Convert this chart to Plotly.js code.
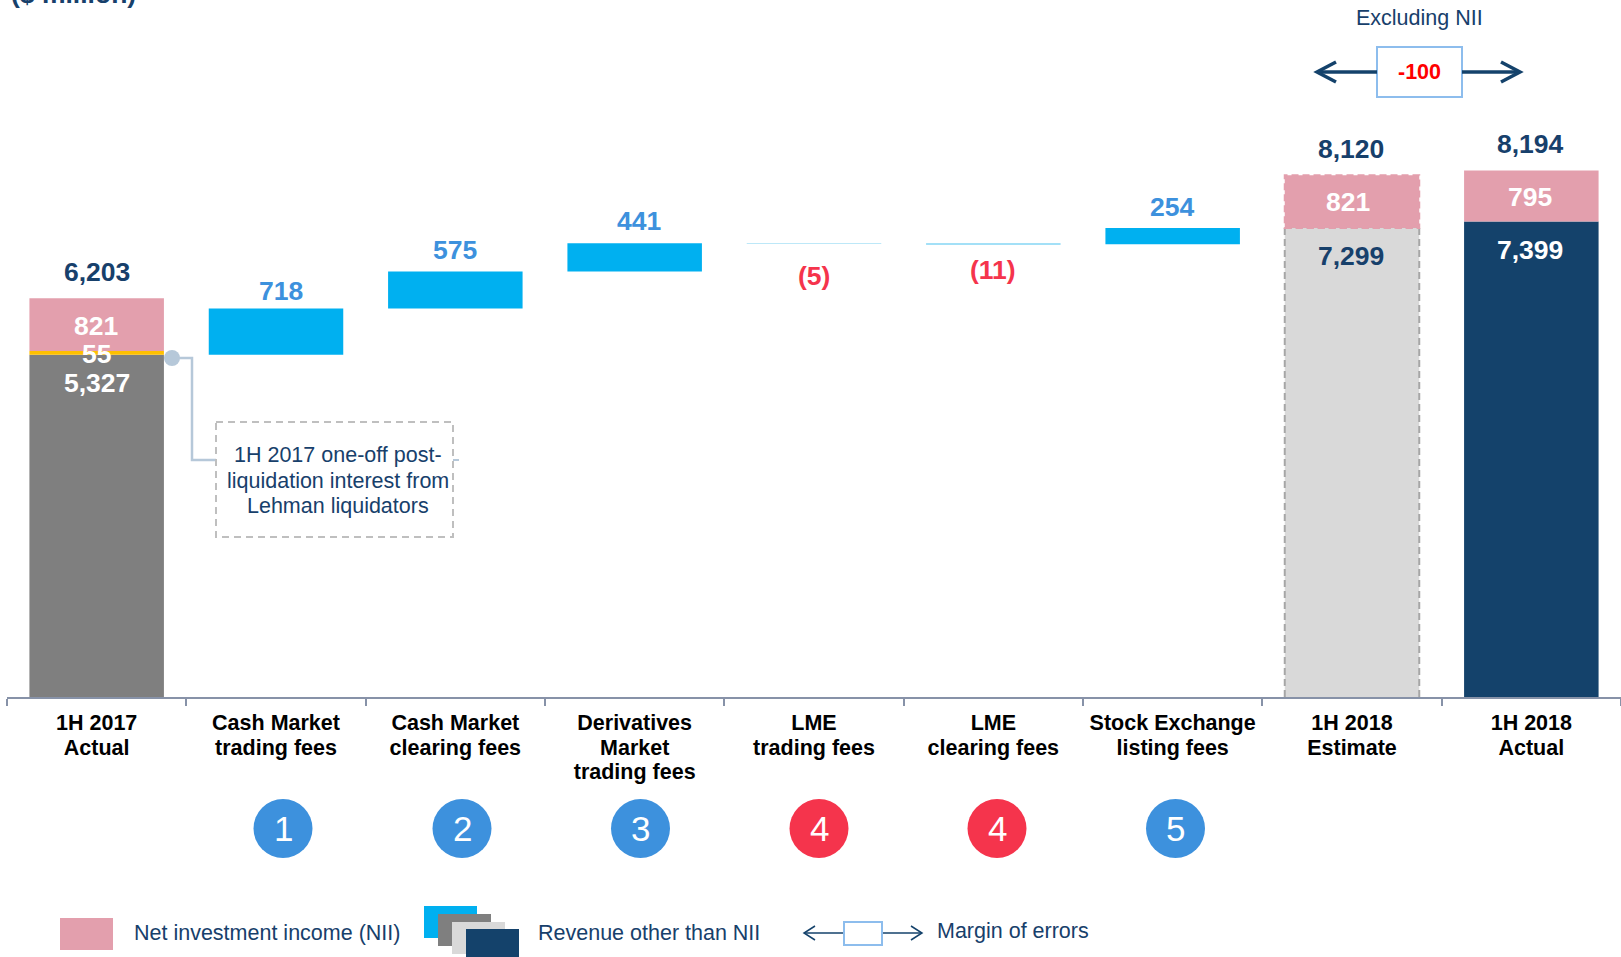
<!DOCTYPE html>
<html>
<head>
<meta charset="utf-8">
<script src="https://cdn.plot.ly/plotly-3.0.1.min.js"></script>
<style>html,body{margin:0;padding:0;background:#fff;overflow:hidden}</style>
</head>
<body>
<div id="chart" style="width:1621px;height:957px"></div>
<script>
// Revenue bridge, $ million
const categories = [
  "1H 2017<br>Actual", "Cash Market<br>trading fees", "Cash Market<br>clearing fees",
  "Derivatives<br>Market<br>trading fees", "LME<br>trading fees", "LME<br>clearing fees",
  "Stock Exchange<br>listing fees", "1H 2018<br>Estimate", "1H 2018<br>Actual"
];
const revenueExNii = [5327, 718, 575, 441, -5, -11, 254, 7299, 7399];
const revenueBase  = [0, 5327, 6045, 6620, 7061, 7056, 7045, 0, 0];
const oneOffInterest = [55, null, null, null, null, null, null, null, null];
const oneOffBase     = [5327, null, null, null, null, null, null, null, null];
const nii     = [821, null, null, null, null, null, null, 821, 795];
const niiBase = [5382, null, null, null, null, null, null, 7299, 7399];
const totals  = [6203, null, null, null, null, null, null, 8120, 8194];
const driverNumbers = ["", "1", "2", "3", "4", "4", "5", "", ""];
const marginOfError = -100;

const NAVY = "#14426B", TEXT = "#17406B", PINK = "#E39FAD", GREY = "#7F7F7F", CYAN = "#00B0F0",
      LIGHT = "#D9D9D9", AMBER = "#FFC000", BLUE = "#3D91DD", RED = "#F5344C", SKY = "#8DBDED", LINK = "#B6C8D9";
const FONT = "Liberation Sans";
// The two LME bars are hairlines, so they are tinted paler than the wide bars
const barColors = [GREY, CYAN, CYAN, CYAN, "#BDE8F8", "#A3E0F7", CYAN, LIGHT, NAVY];

const LEFT = 7, WIDTH = 1614, BASELINE = 697;
const px = x => (x - LEFT) / WIDTH;
const py = y => (BASELINE - y) / BASELINE;

const fmt = v => v.toLocaleString("en-US");
const bridgeFmt = v => v < 0 ? "(" + fmt(-v) + ")" : fmt(v);

const barTrace = (name, y, base, color, line) => ({
  type: "bar", name, x: categories, y, base, width: 0.75,
  marker: {color, line: line || {width: 0}},
  hoverinfo: "skip", showlegend: false
});
const traces = [
  barTrace("Revenue other than NII", revenueExNii, revenueBase, barColors),
  barTrace("One-off interest", oneOffInterest, oneOffBase, AMBER),
  barTrace("Net investment income", nii, niiBase, PINK)
];

// Labels tied to a bar: category index, data level, pixel nudges
const anns = [];
const dataLabel = (i, text, level, dx, dy, color) => anns.push({
  xref: "x", yref: "y", x: i, y: level, xshift: dx, yshift: dy, text: "<b>" + text + "</b>",
  showarrow: false, xanchor: "center", yanchor: "middle",
  font: {family: FONT, size: 26.5, color}
});
dataLabel(0, fmt(totals[0]), 6203, 0, 26.5, TEXT);
dataLabel(0, fmt(nii[0]), 5792, -1, -1.5, "#fff");
dataLabel(0, fmt(oneOffInterest[0]), 5354, 0, -1.5, "#fff");
dataLabel(0, fmt(revenueExNii[0]), 5327, 0, -28.5, "#fff");
dataLabel(1, bridgeFmt(revenueExNii[1]), 6045, 5, 17.5, BLUE);
dataLabel(2, bridgeFmt(revenueExNii[2]), 6620, 0, 21.5, BLUE);
dataLabel(3, bridgeFmt(revenueExNii[3]), 7061, 4, 22, BLUE);
dataLabel(4, bridgeFmt(revenueExNii[4]), 7056, 0, -32.5, RED);
dataLabel(5, bridgeFmt(revenueExNii[5]), 7045, 0, -26, RED);
dataLabel(6, bridgeFmt(revenueExNii[6]), 7299, -1, 20.5, BLUE);
dataLabel(7, fmt(totals[7]), 8120, -1, 26.5, TEXT);
dataLabel(7, fmt(nii[7]), 7709, -4, -0.5, "#fff");
dataLabel(7, fmt(revenueExNii[7]), 7299, -1, -28.5, TEXT);
dataLabel(8, fmt(totals[8]), 8194, -1, 26, TEXT);
dataLabel(8, fmt(nii[8]), 7796, -1, -1.5, "#fff");
dataLabel(8, fmt(revenueExNii[8]), 7399, -1, -28.5, "#fff");

// Free-standing page text, placed in pixels
const pageText = (x, y, text, size, color, anchor) => anns.push({
  xref: "paper", yref: "paper", x: px(x), y: py(y), text, showarrow: false,
  xanchor: anchor || "center", yanchor: "middle",
  font: {family: FONT, size, color}
});
pageText(9, -6, "<b>($ million)</b>", 26.5, TEXT, "left");
pageText(1419, 17.5, "Excluding NII", 21.5, TEXT);
pageText(1419, 72.5, "<b>" + marginOfError + "</b>", 21.5, "#FF0000");
["1H 2017 one-off post-", "liquidation interest from", "Lehman liquidators"].forEach((line, k) =>
  pageText(337.5, 455 + k * 25.5, line, 21.5, TEXT));
pageText(132, 933, "Net investment income (NII)", 21.5, TEXT, "left");
pageText(536, 933, "Revenue other than NII", 21.5, TEXT, "left");
pageText(935, 931, "Margin of errors", 21.5, TEXT, "left");

// Decoration drawn in pixels
const shapes = [];
const box = (x0, y0, x1, y1, fill, line) => shapes.push({
  type: "rect", xref: "paper", yref: "paper", x0: px(x0), x1: px(x1), y0: py(y0), y1: py(y1),
  fillcolor: fill || "rgba(0,0,0,0)", line: line || {width: 0}
});
const disc = (cx, cy, r, fill) => shapes.push({
  type: "circle", xref: "paper", yref: "paper", x0: px(cx - r), x1: px(cx + r), y0: py(cy - r), y1: py(cy + r),
  fillcolor: fill, line: {width: 0}
});
const polyline = (pts, color, width) => shapes.push({
  type: "path", xref: "paper", yref: "paper",
  path: pts.map((p, k) => (k ? "L" : "M") + px(p[0]) + "," + py(p[1])).join(" "),
  line: {color, width}
});

// Estimate bar outlines, dashed: open-bottomed grey sides, scalloped pink cap
const edgeDash = {width: 2, dash: "7px,4px"};
const estimateLine = (x0, x1, y0, y1, color) => shapes.push({
  type: "line", xref: "x", yref: "y", x0, x1, y0, y1, line: {...edgeDash, color}
});
estimateLine(6.625, 6.625, 0, revenueExNii[7], "#A6A6A6");
estimateLine(7.375, 7.375, 0, revenueExNii[7], "#A6A6A6");
estimateLine(6.625, 7.375, revenueExNii[7], revenueExNii[7], "#B5B5B5");
shapes.push({
  type: "rect", xref: "x", yref: "y", x0: 6.625, x1: 7.375, y0: niiBase[7], y1: totals[7],
  fillcolor: "rgba(0,0,0,0)", line: {...edgeDash, color: PINK}
});

// Driver number badges
const badgeCentres = [null, 283, 462, 640.5, 819, 997, 1175.5];
driverNumbers.forEach((n, i) => {
  if (!n) return;
  const colour = revenueExNii[i] < 0 ? RED : BLUE;
  disc(badgeCentres[i], 828.5, 29.5, colour);
  pageText(badgeCentres[i], 828.5, n, 35, "#fff");
});

// Call-out for the one-off interest
polyline([[172, 358], [192, 358], [192, 460], [216, 460]], LINK, 2.5);
polyline([[453, 460], [459, 460]], LINK, 2);
disc(172, 358, 8, LINK);
box(216, 422, 453, 537, null, {color: "#BFBFBF", width: 2, dash: "7px,5px"});

// Margin arrows above the final two bars
box(1377, 47, 1462, 97, "#fff", {color: SKY, width: 2});
polyline([[1377, 72], [1317, 72]], NAVY, 3.5);
polyline([[1336, 62], [1317, 72], [1336, 82]], NAVY, 3.5);
polyline([[1462, 72], [1519, 72]], NAVY, 3.5);
polyline([[1501, 62], [1520, 72], [1501, 82]], NAVY, 3.5);

// Key
box(60, 918, 113, 950, PINK);
box(424, 906, 477, 938, CYAN);
box(438, 914, 491, 946, GREY);
box(452, 922, 505, 954, LIGHT);
box(466, 929, 519, 957, NAVY);
polyline([[844, 933], [804, 933]], NAVY, 1.5);
polyline([[815, 926], [804, 933], [815, 940]], NAVY, 1.5);
polyline([[882, 933], [922, 933]], NAVY, 1.5);
polyline([[911, 926], [922, 933], [911, 940]], NAVY, 1.5);
box(844, 922, 882, 945, "#fff", {color: SKY, width: 2});

const layout = {
  width: 1621, height: 957,
  margin: {l: LEFT, r: 0, t: 0, b: 957 - BASELINE, pad: 0},
  paper_bgcolor: "#fff", plot_bgcolor: "#fff",
  barmode: "overlay", showlegend: false,
  font: {family: FONT},
  xaxis: {
    type: "category", categoryorder: "array", categoryarray: categories,
    range: [-0.5, 8.5], fixedrange: true,
    tickson: "boundaries", ticks: "outside", ticklen: 7, tickwidth: 2, tickcolor: "#8792A8",
    showline: true, linecolor: "#8792A8", linewidth: 2, showgrid: false, zeroline: false,
    tickangle: 0, ticklabelstandoff: 5,
    tickfont: {family: FONT, size: 21.5, color: "#000", weight: 700}
  },
  yaxis: {visible: false, range: [0, 10845], fixedrange: true, showgrid: false, zeroline: false},
  annotations: anns, shapes
};

// Category labels sit on a tighter leading than the axis default
function tightenTickLabels() {
  document.querySelectorAll(".xtick text tspan.line").forEach(t => {
    const dy = parseFloat(t.getAttribute("dy"));
    if (dy) t.setAttribute("dy", (dy / 1.3 * 1.15) + "em");
  });
}
Plotly.newPlot("chart", traces, layout, {displayModeBar: false}).then(tightenTickLabels);
</script>
</body>
</html>
